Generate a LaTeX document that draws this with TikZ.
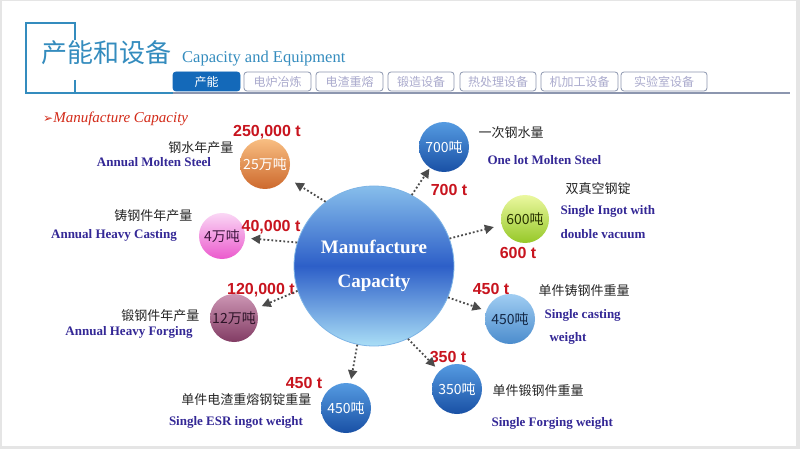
\documentclass[tikz,border=0pt]{standalone}
\usepackage{fontspec}
\setmainfont{Liberation Serif}
\setsansfont{Liberation Sans}
\newfontfamily\cjk{Noto Sans CJK SC}
\newfontfamily\symfont{DejaVu Sans}
\usetikzlibrary{arrows.meta}

\definecolor{titleblue}{RGB}{52,140,190}
\definecolor{labelblue}{RGB}{52,40,150}
\definecolor{numred}{RGB}{200,20,30}
\definecolor{tabgray}{RGB}{140,150,175}
\definecolor{tabtext}{RGB}{170,170,205}
\definecolor{tabblue}{RGB}{20,105,185}
\definecolor{arrowgray}{RGB}{75,75,75}

\tikzset{
  ball/.style={circle, minimum size=50pt, inner sep=0pt, font=\cjk\fontsize{14}{14}\selectfont},
  conn/.style={arrowgray, line width=1.8pt, dash pattern=on 1.8pt off 2.2pt, -{Triangle[length=9pt,width=9pt]}, shorten >=6pt},
  numlbl/.style={text=numred, font=\sffamily\bfseries\fontsize{16}{16}\selectfont},
  cnlbl/.style={text=black!85, font=\cjk\fontsize{13}{13}\selectfont},
  enlbl/.style={text=labelblue, font=\bfseries\fontsize{13}{13}\selectfont},
  tab/.style={draw=tabgray, rounded corners=3pt, line width=0.8pt, text=tabtext, font=\cjk\fontsize{12}{12}\selectfont, minimum height=19pt, inner sep=0pt}
}

\begin{document}
\begin{tikzpicture}[x=1pt,y=-1pt]
		\useasboundingbox (0,0) rectangle (800,449);
		\fill[black!10] (0,0) rectangle (800,449);
		\fill[white] (2,1) rectangle (796,446);

		% heading
		\draw[titleblue, line width=1.2pt] (75,40) -- (75,23) -- (26,23) -- (26,93) -- (173,93);
		\draw[titleblue, line width=1.2pt] (75,80) -- (75,93);
		\draw[tabgray, line width=1.2pt] (173,93) -- (790,93);
		\node[anchor=base west, inner sep=0pt, text=titleblue, font=\cjk\fontsize{26}{26}\selectfont] (titlecn) at (41,63) {产能和设备};
		\node[anchor=base west, inner sep=0pt, text=titleblue, font=\fontsize{16.5}{16.5}\selectfont] (titleen) at (182,63) {Capacity and Equipment};

		\node[tab, fill=tabblue, draw=tabblue, text=white, minimum width=67pt] (tab1) at (206.5,81.5) {产能};
		\foreach \cx/\w/\t [count=\i from 2] in {277.5/67/电炉冶炼, 349.5/67/电渣重熔, 421/66/锻造设备, 498/76/热处理设备, 579.5/77/机加工设备, 664/86/实验室设备}
			\node[tab, minimum width=\w pt] (tab\i) at (\cx,81.5) {\t};

		\node[anchor=west, inner sep=0pt, text=numred!80!orange, font=\itshape\fontsize{15}{15}\selectfont] (subtitle) at (43,119) {{\symfont\fontsize{12}{12}\selectfont ➢}Manufacture Capacity};

		% centre
		\node[circle, minimum size=160pt, inner sep=0pt, draw={rgb,255:red,125;green,180;blue,230}, line width=0.8pt,
			top color={rgb,255:red,135;green,190;blue,235}, bottom color={rgb,255:red,170;green,222;blue,246}, middle color={rgb,255:red,45;green,95;blue,200},
			text=white, align=center, font=\bfseries\fontsize{19}{34}\selectfont] (cap) at (374,266) {Manufacture\\Capacity};

		% satellites
		\node[ball, text=white, top color={rgb,255:red,248;green,190;blue,130}, bottom color={rgb,255:red,205;green,105;blue,45}] (molten) at (265,164) {25万吨};
		\node[ball, minimum size=46pt, text={rgb,255:red,60;green,20;blue,60}, top color={rgb,255:red,250;green,215;blue,245}, bottom color={rgb,255:red,235;green,90;blue,205}] (cast) at (222,236) {4万吨};
		\node[ball, minimum size=48pt, text={rgb,255:red,45;green,20;blue,40}, top color={rgb,255:red,205;green,150;blue,180}, bottom color={rgb,255:red,130;green,60;blue,100}] (forge) at (234,318) {12万吨};
		\node[ball, text=white, top color={rgb,255:red,85;green,155;blue,225}, bottom color={rgb,255:red,25;green,80;blue,165}] (esr) at (346,408) {450吨};
		\node[ball, text=white, top color={rgb,255:red,85;green,155;blue,225}, bottom color={rgb,255:red,25;green,80;blue,165}] (sforge) at (457,389) {350吨};
		\node[ball, text={rgb,255:red,20;green,40;blue,70}, top color={rgb,255:red,160;green,205;blue,242}, bottom color={rgb,255:red,75;green,140;blue,205}] (scast) at (510,319) {450吨};
		\node[ball, minimum size=48pt, text={rgb,255:red,40;green,50;blue,0}, top color={rgb,255:red,235;green,248;blue,160}, bottom color={rgb,255:red,150;green,200;blue,40}] (ingot) at (525,219) {600吨};
		\node[ball, text=white, top color={rgb,255:red,85;green,155;blue,225}, bottom color={rgb,255:red,25;green,80;blue,165}] (lot) at (444,147) {700吨};

		% labels
		\node[numlbl] (moltennum) at (267,132) {250,000 t};
		\node[cnlbl, anchor=east] (moltencn) at (237,148) {钢水年产量};
		\node[enlbl] (moltenen) at (154,162) {Annual Molten Steel};

		\node[numlbl] (castnum) at (271,227) {40,000 t};
		\node[cnlbl, anchor=east] (castcn) at (196,216) {铸钢件年产量};
		\node[enlbl] (casten) at (114,235) {Annual Heavy Casting};

		\node[numlbl] (forgenum) at (261,290) {120,000 t};
		\node[cnlbl, anchor=east] (forgecn) at (203,316) {锻钢件年产量};
		\node[enlbl] (forgeen) at (129,332) {Annual Heavy Forging};

		\node[numlbl] (esrnum) at (304,383) {450 t};
		\node[cnlbl, anchor=east] (esrcn) at (315,400) {单件电渣重熔钢锭重量};
		\node[enlbl] (esren) at (236,422) {Single ESR ingot weight};

		\node[numlbl] (sforgenum) at (448,357) {350 t};
		\node[cnlbl, anchor=west] (sforgecn) at (489,391) {单件锻钢件重量};
		\node[enlbl, anchor=west] (sforgeen) at (488,423) {Single Forging weight};

		\node[numlbl] (scastnum) at (491,289) {450 t};
		\node[cnlbl, anchor=west] (scastcn) at (535,291) {单件铸钢件重量};
		\node[enlbl, anchor=west] (scasten) at (541,315) {Single casting};
		\node[enlbl, anchor=west] (scasten2) at (546,338) {weight};

		\node[numlbl] (ingotnum) at (518,253) {600 t};
		\node[cnlbl, anchor=west] (ingotcn) at (562,189) {双真空钢锭};
		\node[enlbl, anchor=west] (ingoten) at (557,211) {Single Ingot with};
		\node[enlbl, anchor=west] (ingoten2) at (557,234) {double vacuum};

		\node[numlbl] (lotnum) at (449,190) {700 t};
		\node[cnlbl, anchor=west] (lotcn) at (475,133) {一次钢水量};
		\node[enlbl, anchor=west] (loten) at (484,160) {One lot Molten Steel};

		% arrows
		\draw[conn, shorten >=10pt] (cap.127) -- (molten);
		\draw[conn] (cap.163) -- (cast);
		\draw[conn] (cap.198) -- (forge);
		\draw[conn, shorten >=4pt] (cap.258) -- (esr);
		\draw[conn] (cap.295) -- (sforge);
		\draw[conn, shorten >=5pt] (cap.337) -- (scast);
		\draw[conn, shorten >=8pt] (cap.20) -- (ingot);
		\draw[conn, shorten >=1pt] (cap.62) -- (lot);

	\end{tikzpicture}
\end{document}
